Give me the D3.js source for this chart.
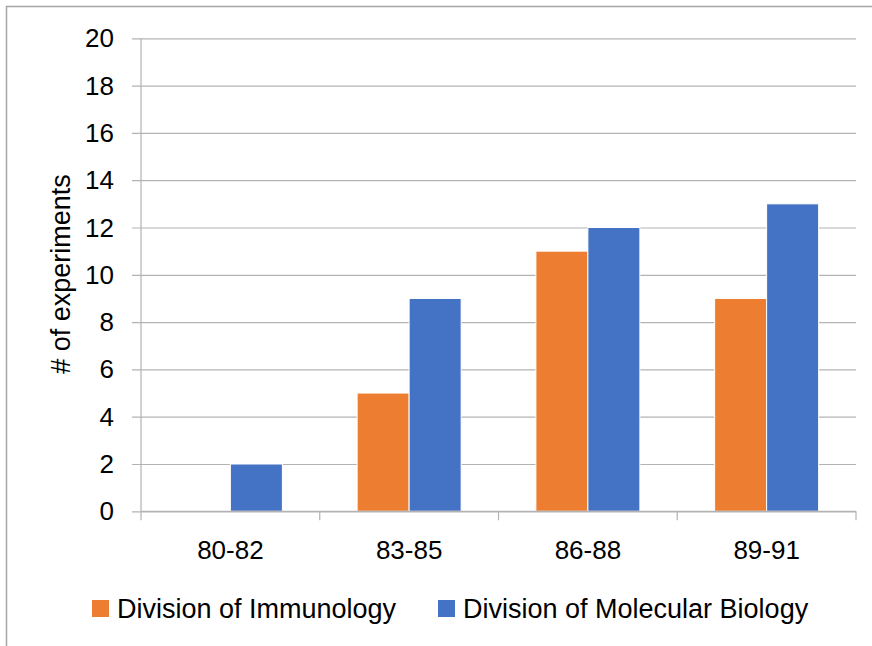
<!DOCTYPE html>
<html>
<head>
<meta charset="utf-8">
<script src="https://cdn.jsdelivr.net/npm/d3@7"></script>
<style>
  html, body { margin: 0; padding: 0; background: #fff; }
  svg { display: block; }
  text { font-family: "Liberation Sans", Arial, sans-serif; fill: #000; }
</style>
</head>
<body>
<svg id="chart" width="872" height="646"></svg>
<script>
// Experiments per period, by division
const periods = ["80-82", "83-85", "86-88", "89-91"];
const seriesNames = ["Division of Immunology", "Division of Molecular Biology"];
const immunology = [0, 5, 11, 9];
const molecularBiology = [2, 9, 12, 13];
const yTicks = [0, 2, 4, 6, 8, 10, 12, 14, 16, 18, 20];
const seriesColors = ["#ED7D31", "#4472C4"];
const yTitle = "# of experiments";

const svg = d3.select("#chart");
const W = 872, H = 646;
const plot = { left: 141, right: 856, top: 38.3, bottom: 511.3 };
const gridColor = "#b3b3b3";

// outer frame (left and top edges visible)
svg.append("rect")
  .attr("x", 6.5).attr("y", 6.5)
  .attr("width", W).attr("height", H)
  .attr("fill", "none").attr("stroke", "#a6a6a6").attr("stroke-width", 1.5);

const x = d3.scaleBand().domain(periods).range([plot.left, plot.right]).paddingInner(0).paddingOuter(0);
const xSub = d3.scaleBand().domain(seriesNames).range([0, x.bandwidth()]).paddingInner(0).paddingOuter(0.71875);
const y = d3.scaleLinear().domain([0, 20]).range([plot.bottom, plot.top]);

// horizontal gridlines with short ticks left of the axis
const yAxis = d3.axisLeft(y).tickValues(yTicks).tickSize(-(plot.right - plot.left)).tickPadding(0).tickFormat("");
const yg = svg.append("g").attr("transform", `translate(${plot.left},0)`).call(yAxis);
yg.select(".domain").remove();
yg.selectAll(".tick line").attr("stroke", gridColor).attr("stroke-width", 1.2).attr("x1", -9);

// y tick labels
svg.append("g").selectAll("text").data(yTicks).join("text")
  .attr("x", 114).attr("y", d => y(d))
  .attr("text-anchor", "end").attr("dominant-baseline", "central")
  .attr("font-size", 26)
  .text(d => d);

// bars
const series = [immunology, molecularBiology];
const groups = svg.append("g").selectAll("g").data(periods).join("g")
  .attr("transform", d => `translate(${x(d)},0)`);
groups.selectAll("rect")
  .data((p, i) => seriesNames.map((s, k) => ({ s, k, v: series[k][i] })))
  .join("rect")
  .filter(d => d.v > 0)
  .attr("x", d => xSub(d.s))
  .attr("width", xSub.bandwidth())
  .attr("y", d => y(d.v))
  .attr("height", d => y(0) - y(d.v))
  .attr("fill", d => seriesColors[d.k])
  .attr("stroke", "#fff").attr("stroke-width", 1);

// y axis line
svg.append("line")
  .attr("x1", plot.left).attr("x2", plot.left)
  .attr("y1", plot.top).attr("y2", plot.bottom)
  .attr("stroke", gridColor).attr("stroke-width", 1.2);

// category axis with boundary ticks
const xg = svg.append("g").attr("transform", `translate(0,${plot.bottom})`);
xg.append("line").attr("x1", plot.left).attr("x2", plot.right)
  .attr("stroke", gridColor).attr("stroke-width", 1.2);
const bounds = periods.map(p => x(p)).concat([plot.right]);
xg.selectAll("line.b").data(bounds).join("line").attr("class", "b")
  .attr("x1", d => d).attr("x2", d => d).attr("y1", 0).attr("y2", 9)
  .attr("stroke", gridColor).attr("stroke-width", 1.2);
xg.selectAll("text").data(periods).join("text")
  .attr("x", d => x(d) + x.bandwidth() / 2).attr("y", 48)
  .attr("text-anchor", "middle").attr("font-size", 26)
  .text(d => d);

// y axis title
svg.append("text")
  .attr("transform", "translate(70,274) rotate(-90)")
  .attr("text-anchor", "middle").attr("font-size", 27)
  .text(yTitle);

// legend
const legendItems = [
  { name: seriesNames[0], color: seriesColors[0], x: 92 },
  { name: seriesNames[1], color: seriesColors[1], x: 438 }
];
const lg = svg.append("g").selectAll("g").data(legendItems).join("g")
  .attr("transform", d => `translate(${d.x},600)`);
lg.append("rect").attr("width", 17).attr("height", 17).attr("fill", d => d.color);
lg.append("text").attr("x", 25).attr("y", 17.5).attr("font-size", 27).text(d => d.name);
</script>
</body>
</html>
